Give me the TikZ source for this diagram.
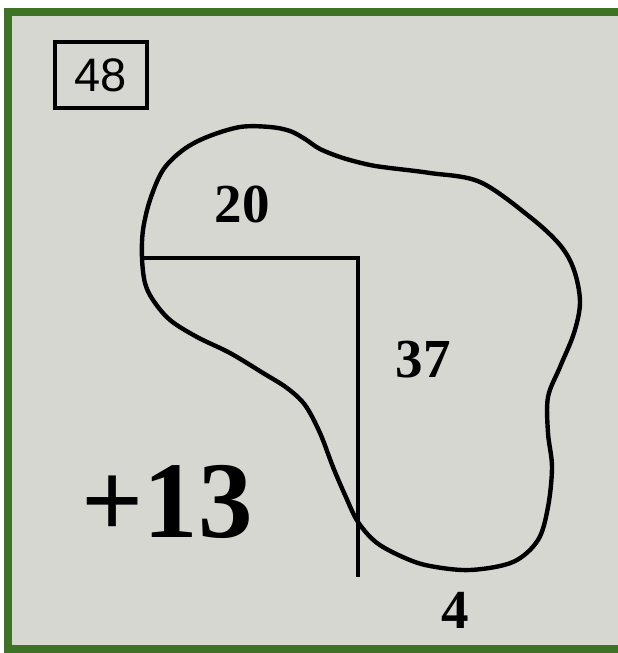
\documentclass[tikz,border=0pt]{standalone}
\usepackage{fontspec}
\setmainfont{Liberation Serif}
\newfontfamily\boxfont{Liberation Sans}
\definecolor{bggray}{RGB}{215,215,210}
\definecolor{framegreen}{RGB}{62,115,38}
\tikzset{
  numlabel/.style={font=\fontsize{55}{55}\selectfont\bfseries, inner sep=0pt, anchor=base},
  blobline/.style={line width=4.4pt, line join=round},
}
\begin{document}
\begin{tikzpicture}[x=1pt,y=-1pt]
\useasboundingbox (0,0) rectangle (618,653);
\fill[white] (0,0) rectangle (618,653);
\begin{scope}
\clip (0,0) rectangle (618,653);
\fill[bggray] (7.5,11.5) rectangle (640,648.5);
\draw[framegreen, line width=8pt] (7.5,11.5) rectangle (640,648.5);
\end{scope}
% box 48
\node[draw, line width=3.4pt, minimum width=92pt, minimum height=66pt, inner sep=0pt,
      font=\boxfont\fontsize{47}{47}\selectfont] (box) at (101,75) {48};
% blob
\draw[blobline] plot[smooth cycle, tension=0.55] coordinates {
 (142,258) (143,230) (150,200) (163,170) (183,150) (207,137) (240,127) (270,127)
 (290,131) (305,139) (320,149) (343,158) (370,165) (390,168) (430,173) (480,182)
 (530,217) (560,245) (574,270) (580,302) (574,333) (560,367) (548,397) (548,433)
 (552,467) (548,507) (538,540) (513,562) (470,570) (430,566) (405,558) (377,543)
 (358,522) (345,495) (333,467) (320,433) (305,405) (287,388) (263,373) (230,353)
 (197,337) (170,320) (153,300) (145,283)};
% lines
\coordinate (hl) at (142,258);
\coordinate (corner) at (358,258);
\coordinate (vb) at (358,577);
\draw[line width=4.2pt, line join=miter] (hl) -- (corner) -- (vb);
% labels
\node[numlabel] (n20) at (242,222) {20};
\node[numlabel] (n37) at (423,377) {37};
\node[numlabel] (n4) at (455,628) {4};
\node[numlabel, font=\fontsize{109}{109}\selectfont\bfseries] (n13) at (167,537) {+13};
\end{tikzpicture}
\end{document}
